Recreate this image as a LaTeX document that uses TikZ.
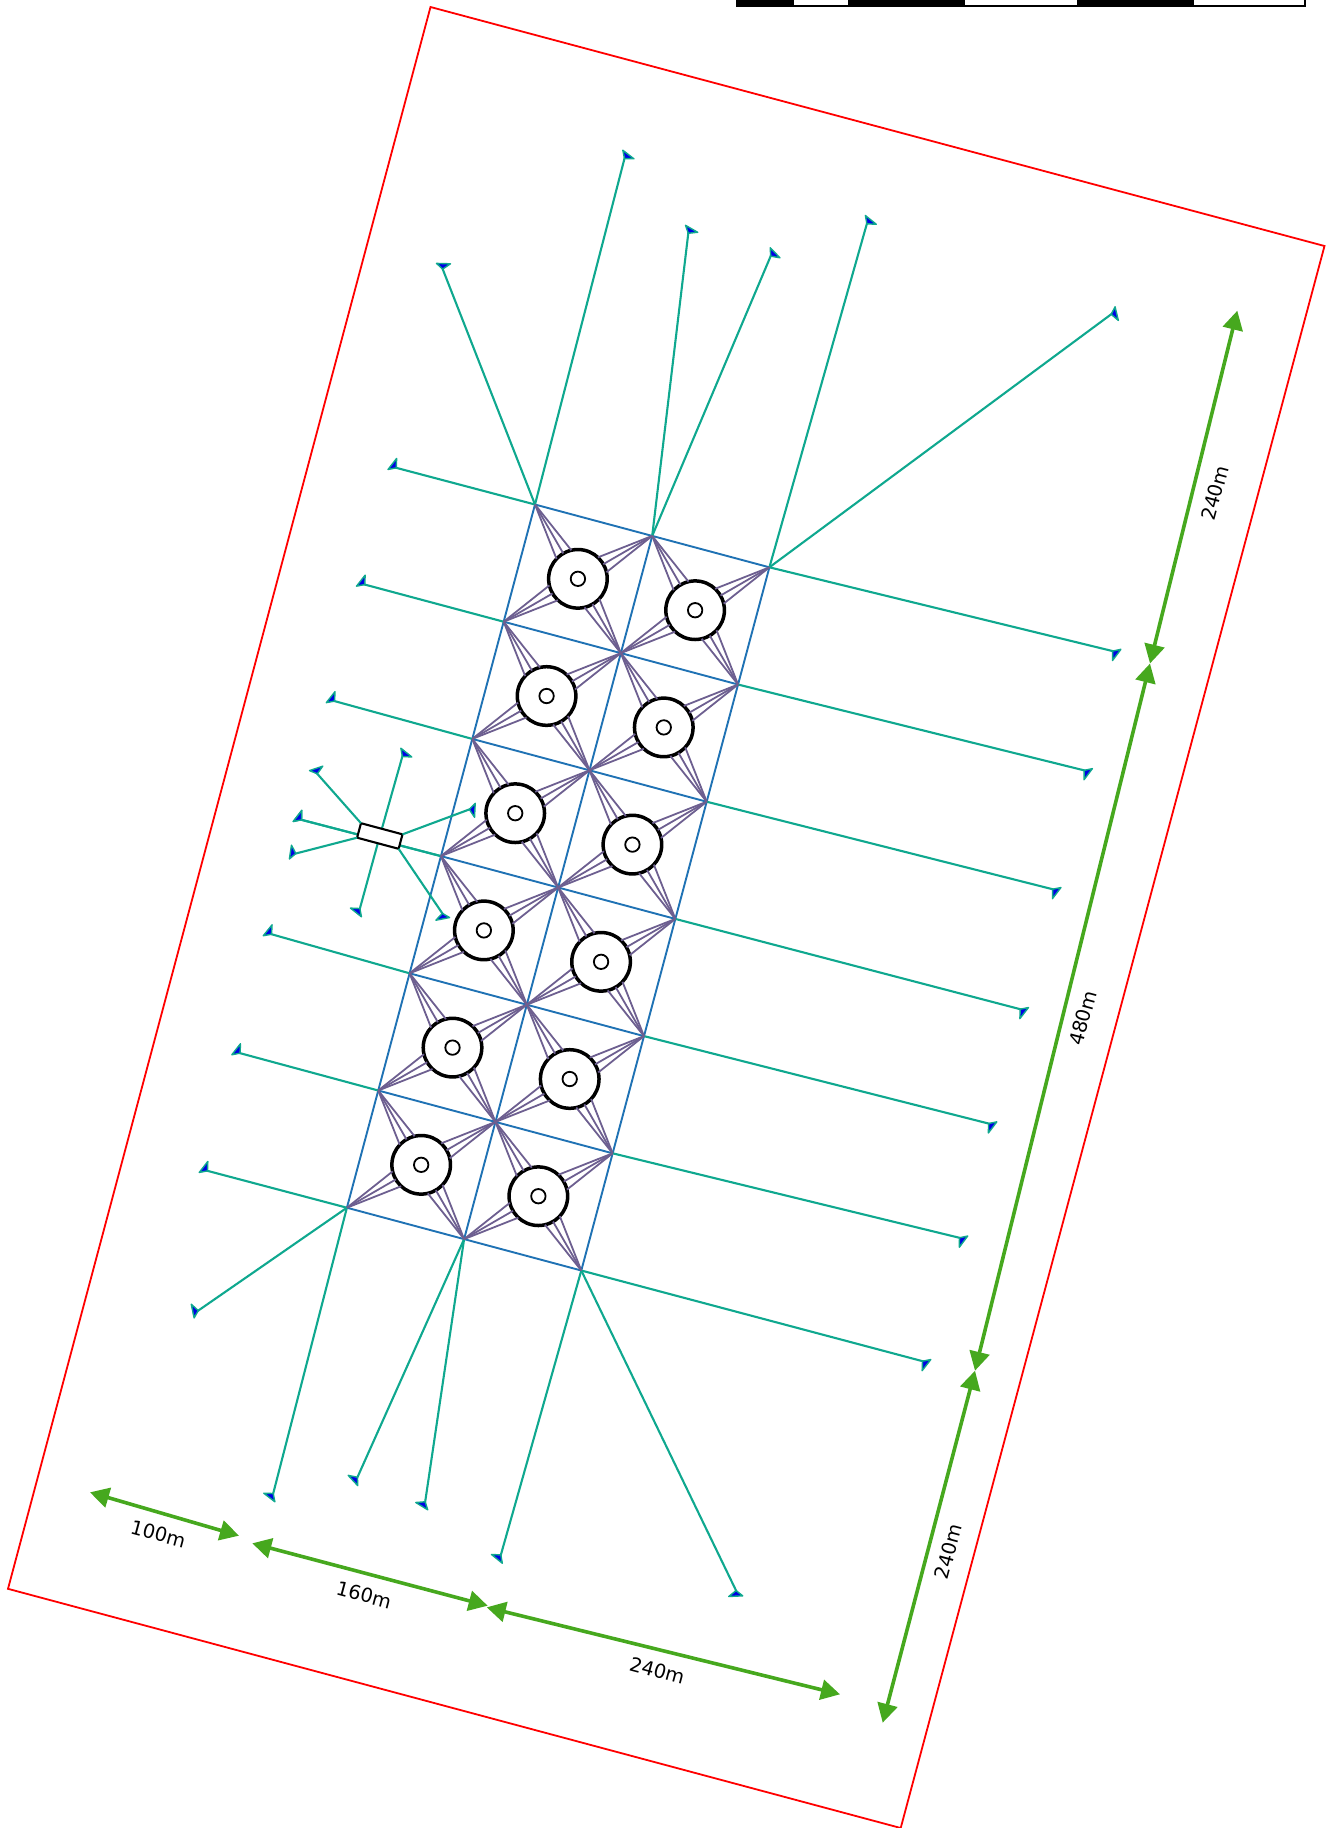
\documentclass[tikz,border=0pt]{standalone}
\usepackage{fontspec}
\setmainfont{DejaVu Sans}
\usetikzlibrary{calc,arrows.meta}
\definecolor{gridblue}{HTML}{1F72B4}
\definecolor{moorteal}{HTML}{0FA88F}
\definecolor{fanpurple}{HTML}{6D5F90}
\definecolor{dimgreen}{HTML}{46A81E}
\tikzset{
  gridline/.style={draw=gridblue,line width=0.95pt},
  moorstyle/.style={draw=moorteal,line width=1.05pt},
  moorhead/.style={draw=moorteal,fill=blue!90!black,line width=0.7pt,line join=round},
  fanline/.style={draw=fanpurple,line width=0.9pt},
  ringouter/.style={circle,draw=black,fill=white,line width=1.75pt,minimum size=29.3pt,inner sep=0pt,outer sep=0pt},
  ringinner/.style={circle,draw=black,fill=white,line width=0.9pt,minimum size=7.2pt,inner sep=0pt,outer sep=0pt},
  subbox/.style={draw=black,fill=white,line width=1.05pt,rotate=-15,minimum width=21.5pt,minimum height=7.5pt,inner sep=0pt,outer sep=0pt},
  dimarrow/.style={draw=dimgreen,line width=1.8pt,{Triangle[length=9.5pt,width=10pt,fill=dimgreen]}-{Triangle[length=9.5pt,width=10pt,fill=dimgreen]}},
  dimlabel/.style={font=\fontsize{9.7pt}{11pt}\selectfont,inner sep=0pt},
  boundary/.style={draw=red,line width=0.9pt,line join=miter},
  barblack/.style={draw=black,fill=black,line width=0.75pt},
  barwhite/.style={draw=black,fill=white,line width=0.75pt}
}
\newcommand{\moorline}[2]{%
  \draw[moorstyle] (#1) -- (#2);
  \filldraw[moorhead] ($(#2)!-2pt!67:(#1)$) -- ($(#2)!5pt!67:(#1)$) -- ($(#2)!3pt!(#1)$) -- cycle;
}
\begin{document}
\begin{tikzpicture}[x=0.5pt,y=-0.5pt]
\useasboundingbox (0,0) rectangle (1332,1828);

% site boundary
\coordinate (rn) at (430.5,7);
\coordinate (re) at (1324.5,246);
\coordinate (rs) at (900.7,1828);
\coordinate (rw) at (8,1588.8);
\draw[boundary] (rn) -- (re) -- (rs) -- (rw) -- cycle;

% scale bar
\draw[barblack] (736.5,-4) rectangle (793.3,5.8);
\draw[barwhite] (793.3,-4) rectangle (849,5.8);
\draw[barblack] (849,-4) rectangle (964.7,5.8);
\draw[barwhite] (964.7,-4) rectangle (1078,5.8);
\draw[barblack] (1078,-4) rectangle (1193.5,5.8);
\draw[barwhite] (1193.5,-4) rectangle (1305,5.8);

% grid points
\foreach \i in {0,1,2}
  \foreach \j in {0,...,6}
    \coordinate (g\i\j) at ({535+117.2*\i-31.35*\j},{504.5+31.4*\i+117.2*\j});

% blue grid
\foreach \j in {0,...,6}
  \draw[gridline] (g0\j) -- (g1\j) -- (g2\j);
\foreach \i in {0,1,2}
  \draw[gridline] (g\i0) -- (g\i1) -- (g\i2) -- (g\i3) -- (g\i4) -- (g\i5) -- (g\i6);

% mooring line tips
\foreach \n/\x/\y in {
  ta/440.5/263.5, tb/626/152.7, tc/689/227.3, td/773/250.6, te/868.5/218, tf/1116/310.7,
  r0/1118.5/652.5, r1/1090/771.8, r2/1058.5/890.7, r3/1026/1010.7, r4/994.4/1125, r5/965.3/1239.2, r6/928.3/1362.7,
  l0/390.5/466.3, l1/359/583, l2/328.8/699.5, l3/295.7/818.3, l4/265.8/932.6, l5/234.3/1051.6, l6/201.7/1169.3,
  ba/193.3/1314, bb/271.7/1499.3, bc/355/1482.7, bd/424.3/1507.7, be/499.2/1560.7, bf/738.7/1596,
  sa/404/750.7, sb/358.3/914.3, sc/313.3/769.3, sd/290/855, se/475/807.3, sf/445.7/918.3}
  \coordinate (\n) at (\x,\y);

\moorline{g00}{ta}
\moorline{g00}{tb}
\moorline{g10}{tc}
\moorline{g10}{td}
\moorline{g20}{te}
\moorline{g20}{tf}
\foreach \k in {0,...,6} {\moorline{g2\k}{r\k}}
\foreach \k in {0,...,6} {\moorline{g0\k}{l\k}}
\moorline{g06}{ba}
\moorline{g06}{bb}
\moorline{g16}{bc}
\moorline{g16}{bd}
\moorline{g26}{be}
\moorline{g26}{bf}

% substation
\coordinate (subc) at (379.8,836);
\moorline{subc}{sa}
\moorline{subc}{sb}
\moorline{g03}{l3}
\node[subbox] (sub) at (subc) {};
\moorline{sub.north west}{sc}
\moorline{sub.south west}{sd}
\moorline{sub.north east}{se}
\moorline{sub.south east}{sf}

% turbines and their mooring fans
\foreach \i/\ii in {0/1,1/2}
  \foreach \j/\jj in {0/1,1/2,2/3,3/4,4/5,5/6} {
    \node[ringouter] (c\i\j) at ($(g\i\j)!0.5!(g\ii\jj)$) {};
    \node[ringinner] (d\i\j) at (c\i\j) {};
    \foreach \a in {13,30,47} \draw[fanline] (g\ii\j) -- (c\i\j.\a);
    \foreach \a in {283,300,317} \draw[fanline] (g\ii\jj) -- (c\i\j.\a);
    \foreach \a in {193,210,227} \draw[fanline] (g\i\jj) -- (c\i\j.\a);
    \foreach \a in {103,120,137} \draw[fanline] (g\i\j) -- (c\i\j.\a);
  }

% dimension arrows
\coordinate (da) at (90,1492.3);
\coordinate (db) at (239,1535.7);
\coordinate (dc) at (252.3,1543.3);
\coordinate (dd) at (487.7,1605.7);
\coordinate (de) at (486.7,1607.3);
\coordinate (df) at (840,1694.3);
\coordinate (dg) at (1237.3,310.7);
\coordinate (dh) at (1150,663.5);
\coordinate (di) at (1150,663.5);
\coordinate (dj) at (975,1370.7);
\coordinate (dk) at (975,1370.7);
\coordinate (dl) at (882.7,1722.7);
\draw[dimarrow] (da) -- (db);
\draw[dimarrow] (dc) -- (dd);
\draw[dimarrow] (de) -- (df);
\draw[dimarrow] (dg) -- (dh);
\draw[dimarrow] (di) -- (dj);
\draw[dimarrow] (dk) -- (dl);

\node[dimlabel,rotate=-15] (la) at (158.3,1534) {100m};
\node[dimlabel,rotate=-15] (lb) at (364,1595) {160m};
\node[dimlabel,rotate=-15] (lc) at (657.3,1670.7) {240m};
\node[dimlabel,rotate=75] (ld) at (1215,493) {240m};
\node[dimlabel,rotate=75] (le) at (1083,1018) {480m};
\node[dimlabel,rotate=75] (lf) at (948.3,1551.7) {240m};
\end{tikzpicture}
\end{document}
